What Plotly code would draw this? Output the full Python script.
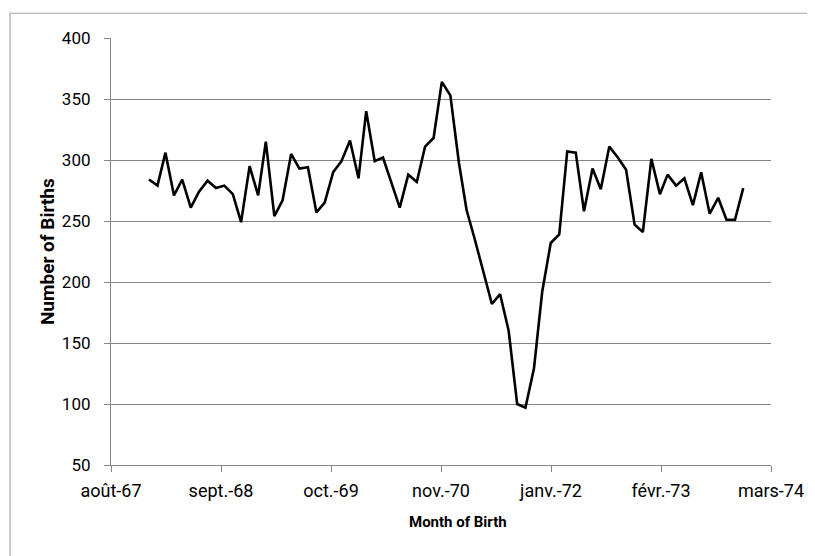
from datetime import datetime, timedelta
import pandas as pd
import plotly.graph_objects as go

# monthly births, Jan 1968 - Dec 1973
start_month = "1968-01-01"
births = [
    284, 279, 306, 271, 284, 261, 274, 283, 277, 279, 272, 249,
    295, 271, 315, 254, 267, 305, 293, 294, 257, 265, 290, 299,
    316, 285, 340, 299, 302, 281, 261, 288, 282, 311, 318, 364,
    353, 298, 259, 234, 208, 182, 190, 160, 100, 97, 129, 192,
    232, 239, 307, 306, 258, 293, 276, 311, 302, 292, 247, 241,
    301, 272, 288, 279, 285, 263, 290, 256, 269, 251, 251, 277,
]
months = pd.date_range(start_month, periods=len(births), freq="MS")

# excel style axis: serial 24700 to 27100, step 400 days
excel_epoch = datetime(1899, 12, 30)
tick_serials = [24700, 25100, 25500, 25900, 26300, 26700, 27100]
tick_labels = ["août-67", "sept.-68", "oct.-69", "nov.-70", "janv.-72", "févr.-73", "mars-74"]
tick_dates = [excel_epoch + timedelta(days=s) for s in tick_serials]

grey = "#868686"
font = "Roboto"

fig = go.Figure()
fig.add_trace(go.Scatter(
    x=months, y=births, mode="lines",
    line=dict(color="black", width=2.6),
    showlegend=False,
))

# page body adds 8px, so the figure is 8px smaller than the window
fig.update_layout(
    width=807, height=548,
    margin=dict(l=103, r=44, t=30, b=91),
    paper_bgcolor="white", plot_bgcolor="white",
    font=dict(family=font, size=17, color="black"),
    shapes=[dict(
        type="rect", xref="paper", yref="paper",
        x0=-0.153, x1=1.4, y0=-0.4, y1=1.058,
        line=dict(color="#a6a6a6", width=1.2), layer="below",
    )],
    annotations=[
        dict(text="<b>Month of Birth</b>", xref="paper", yref="paper",
             x=0.526, y=-0.134, showarrow=False, font=dict(size=15),
             xanchor="center", yanchor="middle"),
        dict(text="<b>Number of Births</b>", xref="paper", yref="paper",
             x=-0.097, y=0.501, showarrow=False, font=dict(size=19),
             textangle=-90, xanchor="center", yanchor="middle"),
    ],
)
fig.update_xaxes(
    type="date", range=[tick_dates[0], tick_dates[-1]],
    tickvals=tick_dates, ticktext=tick_labels, tickfont=dict(size=18),
    showgrid=False, showline=True, linecolor=grey, linewidth=1.2,
    ticks="outside", ticklen=6, tickcolor=grey, tickwidth=1.2,
    ticklabelstandoff=3,
    zeroline=False,
)
fig.update_yaxes(
    range=[50, 400], dtick=50,
    showgrid=True, gridcolor=grey, gridwidth=1.2,
    showline=True, linecolor=grey, linewidth=1.2,
    ticks="outside", ticklen=6, tickcolor=grey, tickwidth=1.2,
    ticklabelstandoff=10,
    zeroline=False,
)

fig.write_html("out.html")
